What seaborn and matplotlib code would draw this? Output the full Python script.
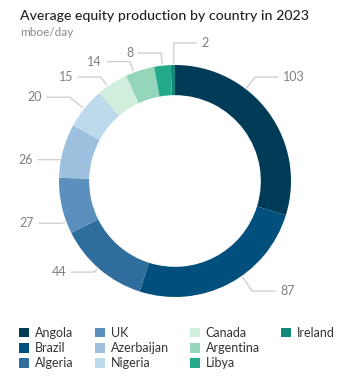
import numpy as np
import seaborn as sns
import matplotlib.pyplot as plt
from matplotlib.patches import Patch

countries = ['Angola', 'Brazil', 'Algeria', 'UK', 'Azerbaijan', 'Nigeria',
             'Canada', 'Argentina', 'Libya', 'Ireland']
production = [103, 87, 44, 27, 26, 20, 15, 14, 8, 2]
colors = ['#003b57', '#004f7d', '#2f6d9c', '#5b8fbd', '#9cc0dd', '#bcdaec',
          '#cfeedc', '#94d6b9', '#25a98b', '#12897b']

# label leader tweaks: angle nudge (deg) from wedge middle, elbow radius
angle_nudge = [16, 7.5, -1, 8, 4.5, 0.5, 2.7, 3, 0, -0.5]
elbow_r = [1.13, 1.16, 1.05, 1.04, 1.0, 1.16, 1.10, 1.10, 1.11, 1.19]

sns.set_theme(style='white')
plt.rcParams['font.family'] = ['Lato', 'DejaVu Sans']

W, H = 364, 382
fig = plt.figure(figsize=(W / 100, H / 100), dpi=100)

# pie axes, scaled so that 1 data unit = outer radius in pixels
R = 116
cx, cy = 175, 181
top, bot = 30, 312
ax = fig.add_axes([0, (H - bot) / H, 1, (bot - top) / H])
wedges, _ = ax.pie(production, colors=colors, startangle=90, counterclock=False,
                   radius=1, wedgeprops=dict(width=0.26, edgecolor='none'))
ax.set_xlim(-cx / R, (W - cx) / R)
ax.set_ylim(-(bot - cy) / R, (cy - top) / R)
ax.set_aspect('auto')
ax.axis('off')

line_col = '#cccccc'
text_col = '#808080'
for w, val, dn, re in zip(wedges, production, angle_nudge, elbow_r):
    theta = np.radians((w.theta1 + w.theta2) / 2 + dn)
    x0, y0 = np.cos(theta), np.sin(theta)
    x1, y1 = re * x0, re * y0
    right = x0 > -0.05
    x2 = x1 + (0.2 if right else -0.2)
    ax.plot([x0 * 1.01, x1, x2], [y0 * 1.01, y1, y1], color=line_col, lw=0.9,
            solid_capstyle='butt')
    ax.text(x2 + (0.04 if right else -0.04), y1, str(val), color=text_col,
            fontsize=9, ha='left' if right else 'right', va='center')

fig.text(20 / W, 1 - 16 / H, 'Average equity production by country in 2023',
         fontsize=10.2, fontweight='medium', color='#222222', ha='left',
         va='center')
fig.text(20 / W, 1 - 32 / H, 'mboe/day', fontsize=8.5, color='#8a8a8a',
         ha='left', va='center')

handles = [Patch(facecolor=c, edgecolor='none') for c in colors]
labels = list(countries)
# pad last column so legend fills 3 rows per column
for _ in range(2):
    handles.append(Patch(facecolor='none', edgecolor='none'))
    labels.append('')
fig.legend(handles, labels, ncol=4, loc='upper left',
           bbox_to_anchor=(19 / W, 1 - 327 / H), frameon=False, fontsize=9,
           handlelength=0.8, handleheight=0.8, handletextpad=0.5,
           columnspacing=1.65, labelspacing=0.25, labelcolor='#333333',
           borderaxespad=0, borderpad=0)

fig.savefig('out.png', dpi=100, facecolor='white')
